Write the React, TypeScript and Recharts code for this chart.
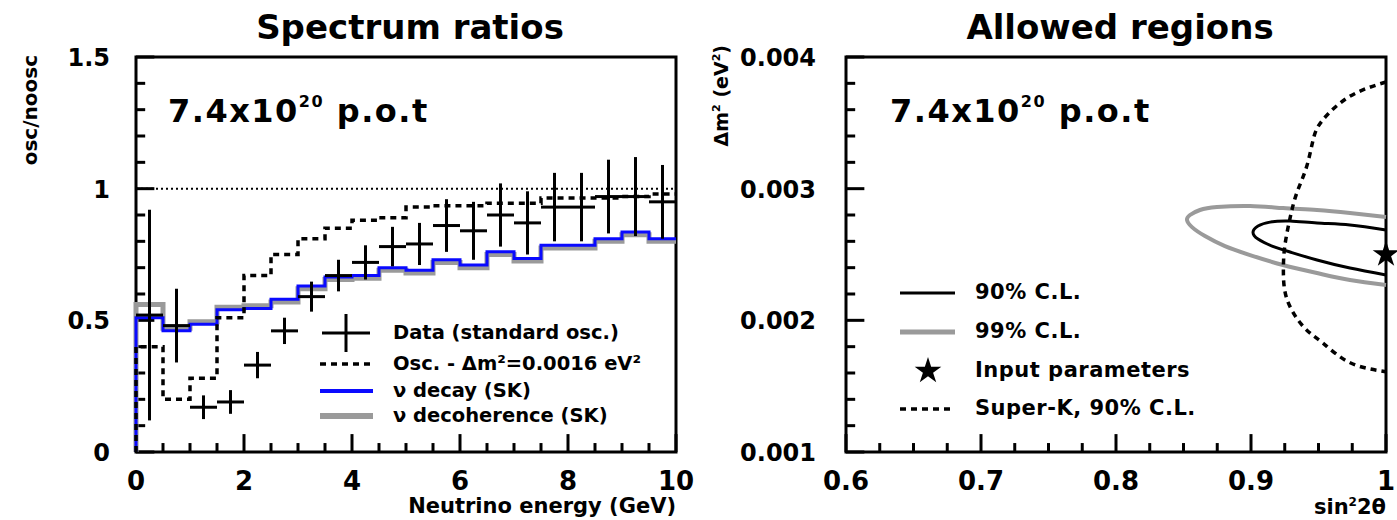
import React from "react";
import {
  ComposedChart,
  Line,
  Scatter,
  ErrorBar,
  XAxis,
  YAxis,
  ReferenceLine,
  ReferenceArea,
  Symbols,
} from "recharts";

// ---- left panel: spectrum ratios (0.5 GeV bins) ----
const binEdges = [0, 0.5, 1, 1.5, 2, 2.5, 3, 3.5, 4, 4.5, 5, 5.5, 6, 6.5, 7, 7.5, 8, 8.5, 9, 9.5, 10];
const binCenters = [0.25, 0.75, 1.25, 1.75, 2.25, 2.75, 3.25, 3.75, 4.25, 4.75, 5.25, 5.75, 6.25, 6.75, 7.25, 7.75, 8.25, 8.75, 9.25, 9.75];
const dataRatio = [0.52, 0.48, 0.17, 0.19, 0.33, 0.46, 0.59, 0.67, 0.72, 0.78, 0.79, 0.86, 0.84, 0.9, 0.87, 0.93, 0.93, 0.97, 0.97, 0.95];
const dataError = [0.4, 0.14, 0.045, 0.045, 0.05, 0.05, 0.057, 0.06, 0.065, 0.075, 0.08, 0.1, 0.11, 0.12, 0.12, 0.13, 0.13, 0.14, 0.15, 0.14];
const oscRatio = [0.4, 0.2, 0.28, 0.51, 0.67, 0.75, 0.81, 0.85, 0.88, 0.89, 0.93, 0.935, 0.935, 0.945, 0.945, 0.965, 0.965, 0.965, 0.97, 0.98];
const decayRatio = [0.51, 0.46, 0.485, 0.54, 0.545, 0.58, 0.63, 0.665, 0.67, 0.7, 0.69, 0.73, 0.71, 0.76, 0.735, 0.785, 0.785, 0.81, 0.835, 0.81];
const decoherenceRatio = [0.56, 0.47, 0.495, 0.55, 0.555, 0.57, 0.62, 0.655, 0.66, 0.69, 0.68, 0.72, 0.7, 0.75, 0.725, 0.775, 0.775, 0.8, 0.825, 0.8];

const energyMajor = [0, 2, 4, 6, 8, 10];
const energyTicks = [0, 0.5, 1, 1.5, 2, 2.5, 3, 3.5, 4, 4.5, 5, 5.5, 6, 6.5, 7, 7.5, 8, 8.5, 9, 9.5, 10];
const ratioMajor = [0, 0.5, 1, 1.5];
const ratioTicks = [0, 0.1, 0.2, 0.3, 0.4, 0.5, 0.6, 0.7, 0.8, 0.9, 1, 1.1, 1.2, 1.3, 1.4, 1.5];

// ---- right panel: allowed regions ----
const cl90Sin = [1.0, 0.9733, 0.9489, 0.9289, 0.9141, 0.9052, 0.9015, 0.9052, 0.9156, 0.9289, 0.9489, 0.9733, 1.0];
const cl90Dm = [0.002686, 0.002724, 0.002739, 0.002754, 0.002746, 0.002716, 0.00267, 0.002617, 0.002564, 0.002519, 0.002458, 0.002397, 0.002344];
const cl99Sin = [1.0, 0.9733, 0.9489, 0.9237, 0.8993, 0.8748, 0.8622, 0.8548, 0.8526, 0.8563, 0.8659, 0.8807, 0.8993, 0.9237, 0.9489, 0.9733, 1.0];
const cl99Dm = [0.002784, 0.002815, 0.002838, 0.002853, 0.002868, 0.00286, 0.002838, 0.0028, 0.002762, 0.002708, 0.00264, 0.002564, 0.002496, 0.00242, 0.002359, 0.002306, 0.002268];
const superKSin = [1.0, 0.973, 0.953, 0.946, 0.941, 0.934, 0.929, 0.925, 0.924, 0.927, 0.939, 0.953, 0.973, 1.0];
const superKDm = [0.00381, 0.0037, 0.00352, 0.00337, 0.00316, 0.00297, 0.00278, 0.00256, 0.00236, 0.00215, 0.00195, 0.00183, 0.00168, 0.00161];
const inputSin = [1.0];
const inputDm = [0.0025];

const sinMajor = [0.6, 0.7, 0.8, 0.9, 1];
const sinTicks = [0.6, 0.625, 0.65, 0.675, 0.7, 0.725, 0.75, 0.775, 0.8, 0.825, 0.85, 0.875, 0.9, 0.925, 0.95, 0.975, 1];
const dmMajor = [0.001, 0.002, 0.003, 0.004];
const dmTicks = [0.001, 0.0012, 0.0014, 0.0016, 0.0018, 0.002, 0.0022, 0.0024, 0.0026, 0.0028, 0.003, 0.0032, 0.0034, 0.0036, 0.0038, 0.004];

const FONT = "'DejaVu Sans', sans-serif";
const BLUE = "#0a0aff";
const GREY = "#9a9a9a";

function stepRows(values: number[]) {
  const rows = [{ x: 0, v: 0 }];
  values.forEach((v, i) => rows.push({ x: binEdges[i], v }));
  rows.push({ x: binEdges[binEdges.length - 1], v: values[values.length - 1] });
  return rows;
}

const oscRows = stepRows(oscRatio);
const decayRows = stepRows(decayRatio);
const decoRows = stepRows(decoherenceRatio);
const pointRows = binCenters.map((x, i) => ({ x, v: dataRatio[i], ex: 0.25, ey: dataError[i] }));

const zip = (xs: number[], ys: number[]) => xs.map((x, i) => ({ x, v: ys[i] }));

// inward ROOT-style tick marks, drawn as short segments in data units
function frameTicks(
  xTicks: number[],
  xMajor: number[],
  yTicks: number[],
  yMajor: number[],
  x0: number,
  y0: number,
  lenX: number,
  lenY: number,
) {
  const out: React.ReactNode[] = [];
  xTicks.forEach((t) => {
    const l = xMajor.includes(t) ? lenY : lenY / 2;
    out.push(
      <ReferenceLine key={`x${t}`} segment={[{ x: t, y: y0 }, { x: t, y: y0 + l }]} stroke="#000" strokeWidth={3} />,
    );
  });
  yTicks.forEach((t) => {
    const l = yMajor.includes(t) ? lenX : lenX / 2;
    out.push(
      <ReferenceLine key={`y${t}`} segment={[{ x: x0, y: t }, { x: x0 + l, y: t }]} stroke="#000" strokeWidth={3} />,
    );
  });
  return out;
}

function BottomLabel(props: any) {
  const { x, y, payload, majors, fmt } = props;
  if (!majors.includes(payload.value)) return <g />;
  return (
    <text x={x} y={y + 38} textAnchor="middle" fontFamily={FONT} fontWeight="bold" fontSize={26} fill="#000" stroke="none">
      {fmt(payload.value)}
    </text>
  );
}

function LeftLabel(props: any) {
  const { x, y, payload, majors, fmt, gap } = props;
  if (!majors.includes(payload.value)) return <g />;
  return (
    <text x={x - gap} y={y + 9} textAnchor="end" fontFamily={FONT} fontWeight="bold" fontSize={24} fill="#000" stroke="none">
      {fmt(payload.value)}
    </text>
  );
}

const textStyle: React.CSSProperties = {
  position: "absolute",
  fontFamily: FONT,
  fontWeight: "bold",
  color: "#000",
  lineHeight: 1,
  whiteSpace: "nowrap",
};

function Pot({ left }: { left: number }) {
  return (
    <div style={{ ...textStyle, left, top: 94, fontSize: 32, letterSpacing: 1.5 }}>
      7.4x10<sup style={{ fontSize: 16, verticalAlign: 15 }}>20</sup> p.o.t
    </div>
  );
}

function LeftLegend() {
  const rows = [
    { label: "Data (standard osc.)", kind: "data" },
    { label: "Osc. - \u0394m\u00b2=0.0016 eV\u00b2", kind: "osc" },
    { label: "\u03bd decay (SK)", kind: "decay" },
    { label: "\u03bd decoherence (SK)", kind: "deco" },
  ];
  const ys = [333, 364, 391, 416];
  return (
    <>
      <svg style={{ position: "absolute", left: 0, top: 0 }} width={700} height={520}>
        {rows.map((r, i) => {
          const y = ys[i];
          if (r.kind === "data")
            return (
              <g key={i} stroke="#000" strokeWidth={3}>
                <line x1={322} x2={370} y1={y} y2={y} />
                <line x1={346} x2={346} y1={y - 19} y2={y + 19} />
              </g>
            );
          if (r.kind === "osc")
            return <line key={i} x1={320} x2={373} y1={y} y2={y} stroke="#000" strokeWidth={3.5} strokeDasharray="6 5" />;
          return (
            <line key={i} x1={320} x2={373} y1={y} y2={y} stroke={r.kind === "decay" ? BLUE : GREY} strokeWidth={r.kind === "decay" ? 4 : 6} />
          );
        })}
      </svg>
      {rows.map((r, i) => (
        <div key={i} style={{ ...textStyle, left: 393, top: ys[i] - 10, fontSize: 19.5 }}>
          {r.label}
        </div>
      ))}
    </>
  );
}

function RightLegend() {
  const rows = ["90% C.L.", "99% C.L.", "Input parameters", "Super-K, 90% C.L."];
  const ys = [293, 332, 371, 409];
  return (
    <>
      <svg style={{ position: "absolute", left: 0, top: 0 }} width={1397} height={520}>
        <line x1={900} x2={955} y1={ys[0]} y2={ys[0]} stroke="#000" strokeWidth={3} />
        <line x1={900} x2={955} y1={ys[1]} y2={ys[1]} stroke={GREY} strokeWidth={5} />
        <Symbols cx={928} cy={ys[2]} type="star" size={220} sizeType="area" fill="#000" />
        <line x1={900} x2={955} y1={ys[3]} y2={ys[3]} stroke="#000" strokeWidth={3.5} strokeDasharray="6 5" />
      </svg>
      {rows.map((r, i) => (
        <div key={i} style={{ ...textStyle, left: 975, top: ys[i] - 11, fontSize: 21, letterSpacing: 0.5 }}>
          {r}
        </div>
      ))}
    </>
  );
}

export default function App() {
  return (
    <div style={{ position: "absolute", left: 0, top: 0, width: 1397, height: 520, background: "#fff", overflow: "hidden" }}>
      {/* left panel */}
      <div style={{ position: "absolute", left: 0, top: 0 }}>
        <ComposedChart width={700} height={520} margin={{ top: 57, right: 24, bottom: 28, left: 76 }}>
          <XAxis
            dataKey="x"
            type="number"
            domain={[0, 10]}
            ticks={energyTicks}
            interval={0}
            axisLine={false}
            tickLine={false}
            tickSize={0}
            tickMargin={0}
            height={40}
            tick={<BottomLabel majors={energyMajor} fmt={(v: number) => String(v)} />}
          />
          <YAxis
            type="number"
            domain={[0, 1.5]}
            ticks={ratioTicks}
            interval={0}
            axisLine={false}
            tickLine={false}
            tickSize={0}
            tickMargin={0}
            width={60}
            tick={<LeftLabel majors={ratioMajor} gap={26} fmt={(v: number) => String(v)} />}
          />
          <ReferenceArea x1={0} x2={10} y1={0} y2={1.5} fill="none" fillOpacity={0} stroke="#000" strokeWidth={3} />
          {frameTicks(energyTicks, energyMajor, ratioTicks, ratioMajor, 0, 0, 0.34, 0.068)}
          <ReferenceLine y={1} stroke="#000" strokeWidth={2} strokeDasharray="2 3" />
          <Line data={decoRows} dataKey="v" type="stepAfter" stroke={GREY} strokeWidth={5} dot={false} isAnimationActive={false} />
          <Line data={decayRows} dataKey="v" type="stepAfter" stroke={BLUE} strokeWidth={3} dot={false} isAnimationActive={false} />
          <Line data={oscRows} dataKey="v" type="stepAfter" stroke="#000" strokeWidth={3.5} strokeDasharray="6 5" dot={false} isAnimationActive={false} />
          <Scatter data={pointRows} dataKey="v" shape={() => <g />} isAnimationActive={false}>
            <ErrorBar dataKey="ex" direction="x" width={0} stroke="#000" strokeWidth={3} />
            <ErrorBar dataKey="ey" direction="y" width={0} stroke="#000" strokeWidth={3} />
          </Scatter>
        </ComposedChart>
      </div>

      {/* right panel */}
      <div style={{ position: "absolute", left: 700, top: 0 }}>
        <ComposedChart width={697} height={520} margin={{ top: 57, right: 11, bottom: 28, left: 86 }}>
          <XAxis
            dataKey="x"
            type="number"
            domain={[0.6, 1]}
            ticks={sinTicks}
            interval={0}
            axisLine={false}
            tickLine={false}
            tickSize={0}
            tickMargin={0}
            height={40}
            tick={<BottomLabel majors={sinMajor} fmt={(v: number) => String(v)} />}
          />
          <YAxis
            type="number"
            domain={[0.001, 0.004]}
            ticks={dmTicks}
            interval={0}
            axisLine={false}
            tickLine={false}
            tickSize={0}
            tickMargin={0}
            width={60}
            tick={<LeftLabel majors={dmMajor} gap={30} fmt={(v: number) => v.toFixed(3)} />}
          />
          <ReferenceArea x1={0.6} x2={1} y1={0.001} y2={0.004} fill="none" fillOpacity={0} stroke="#000" strokeWidth={3} />
          {frameTicks(sinTicks, sinMajor, dmTicks, dmMajor, 0.6, 0.001, 0.0136, 0.000136)}
          <Line data={zip(cl99Sin, cl99Dm)} dataKey="v" type="natural" stroke={GREY} strokeWidth={4} dot={false} isAnimationActive={false} />
          <Line data={zip(cl90Sin, cl90Dm)} dataKey="v" type="natural" stroke="#000" strokeWidth={3} dot={false} isAnimationActive={false} />
          <Line data={zip(superKSin, superKDm)} dataKey="v" type="natural" stroke="#000" strokeWidth={3.5} strokeDasharray="6 5" dot={false} isAnimationActive={false} />
          <Scatter
            data={zip(inputSin, inputDm)}
            dataKey="v"
            isAnimationActive={false}
            shape={(p: any) => <Symbols cx={p.cx} cy={p.cy} type="star" size={220} sizeType="area" fill="#000" />}
          />
        </ComposedChart>
      </div>

      {/* titles and axis titles */}
      <div style={{ ...textStyle, left: 0, width: 820, textAlign: "center", top: 10, fontSize: 34 }}>Spectrum ratios</div>
      <div style={{ ...textStyle, left: 1120 - 400, width: 800, textAlign: "center", top: 10, fontSize: 34 }}>Allowed regions</div>
      <Pot left={168} />
      <Pot left={890} />
      <div style={{ ...textStyle, right: 1397 - 676, top: 496, fontSize: 21 }}>Neutrino energy (GeV)</div>
      <div style={{ ...textStyle, right: 1397 - 1386, top: 496, fontSize: 21 }}>
        sin<sup style={{ fontSize: 12 }}>2</sup>2θ
      </div>
      <svg style={{ position: "absolute", left: 0, top: 0 }} width={1397} height={520}>
        <text transform="translate(37,55) rotate(-90)" textAnchor="end" fontFamily={FONT} fontWeight="bold" fontSize={20} fill="#000">
          osc/noosc
        </text>
        <text transform="translate(728,45) rotate(-90)" textAnchor="end" fontFamily={FONT} fontWeight="bold" fontSize={19} fill="#000">
          Δm<tspan fontSize={11} dy={-8}>2</tspan>
          <tspan dy={8}> (eV</tspan>
          <tspan fontSize={11} dy={-8}>2</tspan>
          <tspan dy={8}>)</tspan>
        </text>
      </svg>
      <LeftLegend />
      <RightLegend />
    </div>
  );
}
